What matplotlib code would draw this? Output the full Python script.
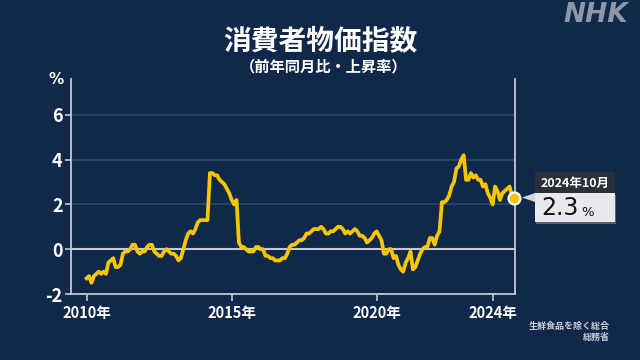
import numpy as np
import matplotlib
matplotlib.use("Agg")
from matplotlib import pyplot as plt
from matplotlib.patches import Rectangle, Polygon

plt.rcParams['font.family'] = ['Noto Sans CJK JP', 'DejaVu Sans']

# 消費者物価指数（生鮮食品を除く総合） 前年同月比 %, 2010年1月〜2024年10月
start_year = 2010
cpi = [
    # 2010
    -1.3, -1.2, -1.5, -1.2, -1.1, -1.0, -1.1, -1.0, -1.1, -0.6, -0.5, -0.4,
    # 2011
    -0.8, -0.8, -0.7, -0.2, -0.1, -0.1, 0.0, 0.2, 0.2, -0.1, -0.2, -0.1,
    # 2012
    -0.1, 0.1, 0.2, 0.2, -0.1, -0.2, -0.3, -0.3, -0.1, 0.0, -0.1, -0.2,
    # 2013
    -0.2, -0.3, -0.5, -0.4, 0.0, 0.4, 0.7, 0.8, 0.7, 0.9, 1.2, 1.3,
    # 2014
    1.3, 1.3, 1.3, 3.4, 3.4, 3.3, 3.3, 3.1, 3.0, 2.9, 2.7, 2.5,
    # 2015
    2.2, 2.0, 2.2, 0.3, 0.1, 0.1, 0.0, -0.1, -0.1, -0.1, 0.1, 0.1,
    # 2016
    0.0, 0.0, -0.3, -0.3, -0.4, -0.4, -0.5, -0.5, -0.5, -0.4, -0.4, -0.2,
    # 2017
    0.1, 0.2, 0.2, 0.3, 0.4, 0.4, 0.5, 0.7, 0.7, 0.8, 0.9, 0.9,
    # 2018
    0.9, 1.0, 0.9, 0.7, 0.7, 0.8, 0.8, 0.9, 1.0, 1.0, 0.9, 0.7,
    # 2019
    0.8, 0.7, 0.8, 0.9, 0.8, 0.6, 0.6, 0.5, 0.3, 0.4, 0.5, 0.7,
    # 2020
    0.8, 0.6, 0.4, -0.2, -0.2, 0.0, 0.0, -0.4, -0.3, -0.7, -0.9, -1.0,
    # 2021
    -0.6, -0.4, -0.1, -0.9, -0.8, -0.5, -0.2, 0.0, 0.1, 0.1, 0.5, 0.5,
    # 2022
    0.2, 0.6, 0.8, 2.1, 2.1, 2.2, 2.4, 2.8, 3.0, 3.6, 3.7, 4.0,
    # 2023
    4.2, 3.1, 3.1, 3.4, 3.2, 3.3, 3.1, 3.1, 2.8, 2.9, 2.5, 2.3,
    # 2024
    2.0, 2.8, 2.6, 2.2, 2.5, 2.6, 2.7, 2.8, 2.4, 2.3,
]
x_ticks = [2010, 2015, 2020, 2024]
x_labels = ["2010年", "2015年", "2020年", "2024年"]
y_ticks = [-2, 0, 2, 4, 6]
latest_label = "2024年10月"

BG = "#10284a"
YELLOW = "#f7c600"
AXIS = "#c3c8d2"
GRID = "#2c4468"

t = start_year + np.arange(len(cpi)) / 12.0

fig = plt.figure(figsize=(6.4, 3.6), dpi=100, facecolor=BG)
ax = fig.add_axes([71 / 640, 1 - 294 / 360, 444 / 640, 215 / 360])
ax.set_facecolor(BG)

ax.plot(t, cpi, color=YELLOW, lw=2.7, solid_joinstyle="round", zorder=3)
ax.scatter([t[-1]], [cpi[-1]], s=75, color=YELLOW, edgecolor="white", linewidth=1.5, zorder=4, clip_on=False)

ax.set_xlim(2009.46, 2024.77)
ax.set_ylim(-2, 7.6)
for y in [2, 4, 6]:
    ax.axhline(y, color=GRID, lw=1.3, zorder=1)
ax.axhline(0, color=AXIS, lw=1.5, zorder=2)

ax.set_xticks(x_ticks)
ax.set_xticklabels(x_labels)
ax.set_yticks(y_ticks)
ax.set_yticklabels([str(v) for v in y_ticks])
ax.tick_params(axis="x", colors=AXIS, labelcolor="white", length=5, width=1.2, pad=3, labelsize=10.5)
ax.tick_params(axis="y", colors=AXIS, labelcolor="white", length=4, width=1.2, pad=2, labelsize=13)
for lab in ax.get_xticklabels() + ax.get_yticklabels():
    lab.set_fontweight("bold")
ax.spines["top"].set_visible(False)
for side in ["left", "right", "bottom"]:
    ax.spines[side].set_color(AXIS)
    ax.spines[side].set_linewidth(1.3)

# overlay in pixel coordinates for annotations
ov = fig.add_axes([0, 0, 1, 1], facecolor="none")
ov.set_xlim(0, 640)
ov.set_ylim(360, 0)
ov.axis("off")

ov.text(320, 41, "消費者物価指数", color="white", fontsize=20, fontweight="bold", ha="center", va="center")
ov.text(324, 66, "（前年同月比・上昇率）", color="white", fontsize=11, fontweight="bold", ha="center", va="center")
ov.text(56, 80, "%", color="white", fontsize=11, fontweight="bold", ha="center", va="center", family=["DejaVu Sans"])
ov.text(596, 15, "NHK", color="#8e97a8", fontsize=19, fontweight="heavy", style="italic",
        ha="center", va="center", family=["DejaVu Sans"])

ov.text(610, 326, "生鮮食品を除く総合", color="#c8cdd8", fontsize=6.5, fontweight="bold", ha="right", va="center")
ov.text(610, 337, "総務省", color="#c8cdd8", fontsize=6.5, fontweight="bold", ha="right", va="center")

# callout for latest value
ov.add_patch(Rectangle((536, 195), 80, 29, facecolor="#5a6070", edgecolor="none", zorder=2))
ov.add_patch(Rectangle((535, 172), 80, 21, facecolor="#2b3038", edgecolor="none", zorder=3))
ov.add_patch(Rectangle((535, 193), 80, 29, facecolor="#e8e9ec", edgecolor="none", zorder=3))
ov.add_patch(Polygon([(522, 197.5), (535, 193), (535, 202)], closed=True, facecolor="#d2d5dc", edgecolor="none", zorder=3))
ov.text(575, 183, latest_label, color="white", fontsize=9, fontweight="bold", ha="center", va="center", zorder=4)
ov.text(541, 208, f"{cpi[-1]:.1f}", color="#111111", fontsize=17, ha="left", va="center", zorder=4,
        family=["DejaVu Sans"])
ov.text(581, 212, "%", color="#111111", fontsize=9.5, ha="left", va="center", zorder=4, family=["DejaVu Sans"])

fig.savefig("out.png", dpi=100, facecolor=BG)
